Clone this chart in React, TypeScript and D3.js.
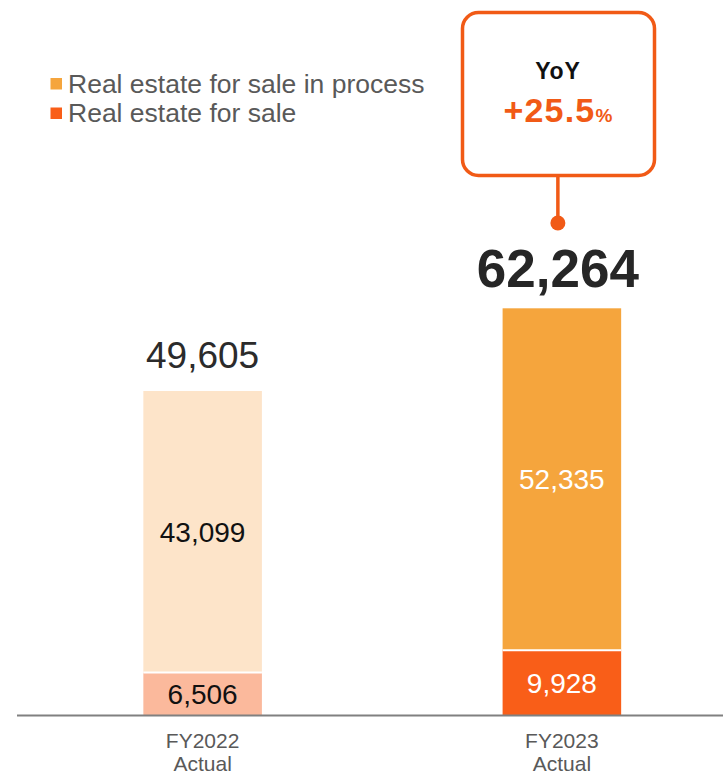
import React from "react";
import * as d3 from "d3";

const categories = ["FY2022", "FY2023"];
const subLabels = ["Actual", "Actual"];
const forSale = [6506, 9928];
const inProcess = [43099, 52335];
const totals = [49605, 62264];
const yoyText = "+25.5";
const legendLabels = ["Real estate for sale in process", "Real estate for sale"];

const W = 723;
const H = 775;
const FONT = "Liberation Sans, Arial, sans-serif";

export default function App() {
  const x = d3
    .scaleBand<string>()
    .domain(categories)
    .range([23, 741.5])
    .paddingInner(0.67)
    .paddingOuter(0.335);
  const y = d3.scaleLinear().domain([0, 62264]).range([715, 308.3]);
  const bw = x.bandwidth();
  const fmt = d3.format(",");

  const lowColors = ["#FBB99C", "#F95E18"];
  const highColors = ["#FDE4C9", "#F5A53D"];
  const innerText = [["#111", "#111"], ["#fff", "#fff"]];

  const c2 = (x("FY2023") as number) + bw / 2;

  return (
    <svg
      width={W}
      height={H}
      style={{ position: "absolute", left: 0, top: 0, fontFamily: FONT }}
    >
      <rect width={W} height={H} fill="#fff" />
      {/* legend */}
      <rect x={50.5} y={78} width={11.5} height={11.5} fill="#F5A53D" />
      <rect x={50.5} y={107.5} width={11.5} height={11.5} fill="#F95E18" />
      <text x={68} y={92.5} fontSize={26.5} fill="#595959">{legendLabels[0]}</text>
      <text x={68} y={121.5} fontSize={26.5} fill="#595959">{legendLabels[1]}</text>

      {categories.map((c, i) => {
        const x0 = x(c) as number;
        const cx = x0 + bw / 2;
        const yLowTop = y(forSale[i]);
        const yTop = y(forSale[i] + inProcess[i]);
        return (
          <g key={c}>
            <rect x={x0} y={yLowTop} width={bw} height={y(0) - yLowTop} fill={lowColors[i]} />
            <rect x={x0} y={yTop} width={bw} height={yLowTop - yTop} fill={highColors[i]} />
            <line x1={x0} x2={x0 + bw} y1={yLowTop} y2={yLowTop} stroke="#fff" strokeWidth={2} />
            <text x={cx} y={(y(0) + yLowTop) / 2 + 10} fontSize={28} textAnchor="middle" fill={innerText[i][0]}>
              {fmt(forSale[i])}
            </text>
            <text x={cx} y={(yLowTop + yTop) / 2 + 10} fontSize={28} textAnchor="middle" fill={innerText[i][1]}>
              {fmt(inProcess[i])}
            </text>
            <text
              x={i === 1 ? cx - 4 : cx}
              y={yTop - (i === 1 ? 21 : 23)}
              fontSize={i === 1 ? 53 : 37}
              fontWeight={i === 1 ? "bold" : "normal"}
              textAnchor="middle"
              fill={i === 1 ? "#262626" : "#2b2b2b"}
            >
              {fmt(totals[i])}
            </text>
            <text x={cx} y={748} fontSize={21} textAnchor="middle" fill="#595959">{c}</text>
            <text x={cx} y={771} fontSize={21} textAnchor="middle" fill="#595959">{subLabels[i]}</text>
          </g>
        );
      })}

      <line x1={17} x2={W} y1={715.5} y2={715.5} stroke="#808080" strokeWidth={2} />

      {/* YoY callout */}
      <rect x={462.5} y={12.5} width={192} height={163} rx={16} fill="#fff" stroke="#F15A16" strokeWidth={3.5} />
      <line x1={c2 - 4} x2={c2 - 4} y1={176} y2={223} stroke="#F15A16" strokeWidth={3.5} />
      <circle cx={c2 - 4} cy={223} r={7.5} fill="#F15A16" />
      <text x={c2 - 4} y={78.5} fontSize={23} fontWeight="bold" letterSpacing={0.8} textAnchor="middle" fill="#111">YoY</text>
      <text x={c2 - 4} y={122} textAnchor="middle" fontWeight="bold" fill="#F15A16">
        <tspan fontSize={34} letterSpacing={1.2}>{yoyText}</tspan>
        <tspan fontSize={19}>%</tspan>
      </text>
    </svg>
  );
}
